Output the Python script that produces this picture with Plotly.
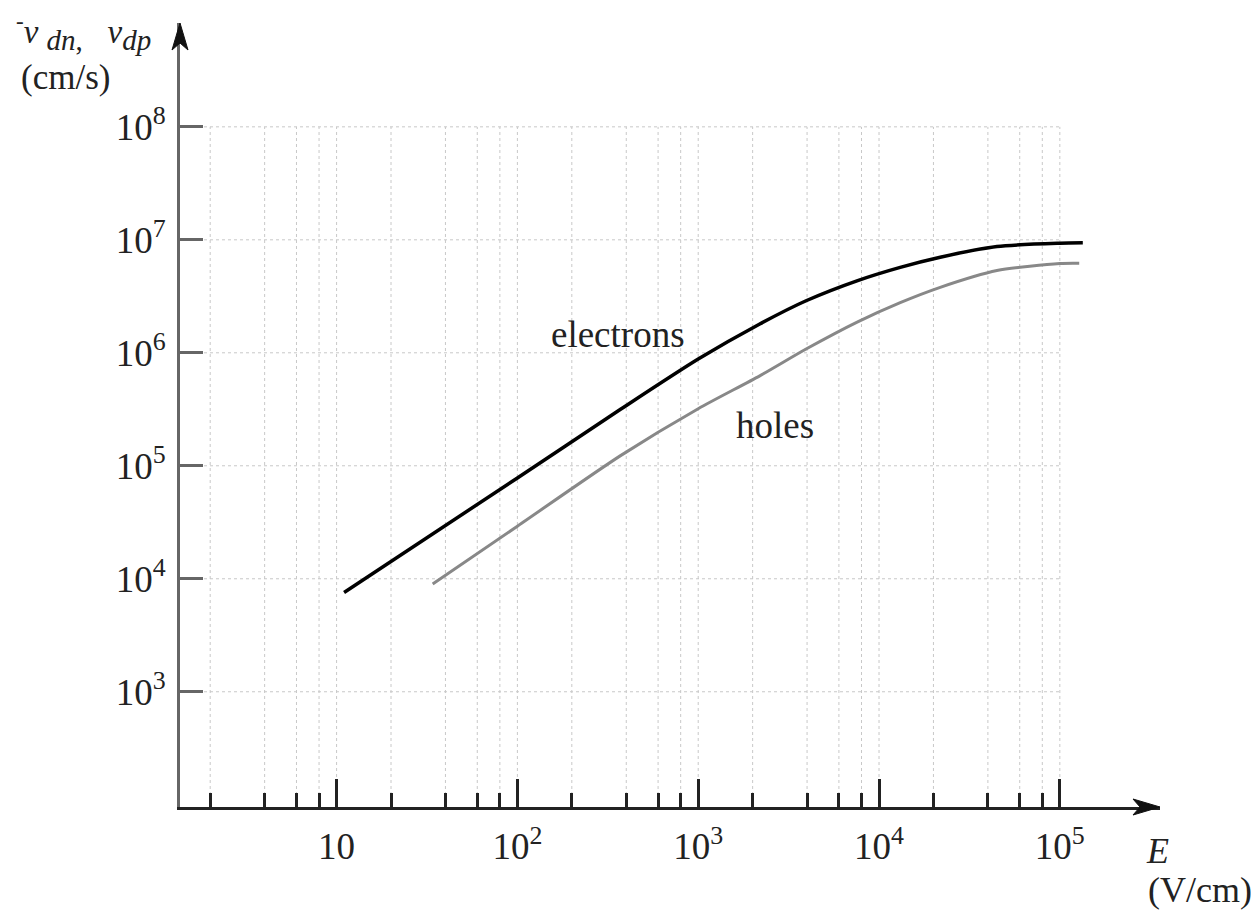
import plotly.graph_objects as go

# ---- data ----
E_electrons = [11, 100, 372, 1000, 2190, 3950, 7620, 13100, 21800, 44900, 100000, 134000]
v_electrons = [7.57e3, 7.8e4, 3.16e5, 8.8e5, 1.80e6, 2.89e6, 4.36e6, 5.71e6, 7.02e6, 8.73e6, 9.33e6, 9.4e6]

E_holes = [34, 100, 372, 1000, 2190, 3950, 7620, 13100, 21800, 44900, 100000, 128000]
v_holes = [8.97e3, 2.92e4, 1.23e5, 3.2e5, 6.25e5, 1.08e6, 1.88e6, 2.78e6, 3.8e6, 5.35e6, 6.17e6, 6.2e6]

x_major = [10, 100, 1000, 10000, 100000]
x_major_text = ["10", "10<sup>2</sup>", "10<sup>3</sup>", "10<sup>4</sup>", "10<sup>5</sup>"]
x_minor = [m * 10 ** k for k in range(0, 5) for m in (2, 4, 6, 8)]
y_major = [1e3, 1e4, 1e5, 1e6, 1e7, 1e8]
y_major_text = ["10<sup>3</sup>", "10<sup>4</sup>", "10<sup>5</sup>", "10<sup>6</sup>", "10<sup>7</sup>", "10<sup>8</sup>"]

x_range_log = [0.134, 5.554]
y_range_log = [1.98, 8.919]

label_electrons = ("electrons", 2.557, 6.16)   # (text, log10 E, log10 v)
label_holes = ("holes", 3.427, 5.361)

FONT = "Liberation Serif"
TXT = "#222222"

fig = go.Figure()

# dotted grid, restricted to the decade box like the reference
grid_x = sorted(x_minor + x_major)
x_lo = 10 ** x_range_log[0]
for gx in grid_x:
    fig.add_trace(go.Scatter(x=[gx, gx], y=[10 ** y_range_log[0], max(y_major)], mode="lines",
                             line=dict(color="#c8c8c8", width=1, dash="dot"),
                             hoverinfo="skip", showlegend=False))
for gy in y_major:
    fig.add_trace(go.Scatter(x=[x_lo, max(x_major)], y=[gy, gy], mode="lines",
                             line=dict(color="#c8c8c8", width=1, dash="dot"),
                             hoverinfo="skip", showlegend=False))

fig.add_trace(go.Scatter(x=E_holes, y=v_holes, mode="lines", name="holes",
                         line=dict(color="#888888", width=3, shape="spline", smoothing=0.7),
                         showlegend=False))
fig.add_trace(go.Scatter(x=E_electrons, y=v_electrons, mode="lines", name="electrons",
                         line=dict(color="#000000", width=3.5, shape="spline", smoothing=0.7),
                         showlegend=False))

# page body has an 8px margin: the figure is placed at (8, 8) in the window
OFF = 8
W, H = 1259 - OFF, 910 - OFF
ML, MR, MT, MB = 180 - OFF, 99, 23 - OFF, 103
PW, PH = W - ML - MR, H - MT - MB
PLOT_LEFT, PLOT_BOTTOM = 180, 807   # window pixels


def px(xp):
    return (xp - PLOT_LEFT) / PW


def py(yp):
    return (PLOT_BOTTOM - yp) / PH


sub_style = "font-size:29px"
title_text = ("<sup>-</sup><i>v</i> <sub><span style='%s'><i>dn</i>,</span></sub>   "
              "<i>v</i><sub><span style='%s'><i>dp</i></span></sub>") % (sub_style, sub_style)

annotations = [
    dict(text=label_electrons[0], x=label_electrons[1], y=label_electrons[2], xref="x", yref="y",
         xanchor="center", yanchor="middle",
         showarrow=False, font=dict(family=FONT, size=37, color=TXT)),
    dict(text=label_holes[0], x=label_holes[1], y=label_holes[2], xref="x", yref="y",
         xanchor="center", yanchor="middle",
         showarrow=False, font=dict(family=FONT, size=37, color=TXT)),
    dict(text=title_text,
         x=px(14), y=py(32), xref="paper", yref="paper", xanchor="left", yanchor="middle",
         showarrow=False, font=dict(family=FONT, size=33, color=TXT)),
    dict(text="(cm/s)", x=px(65), y=py(77), xref="paper", yref="paper",
         xanchor="center", yanchor="middle",
         showarrow=False, font=dict(family=FONT, size=35, color=TXT)),
    dict(text="<i>E</i>", x=px(1157), y=py(851), xref="paper", yref="paper",
         xanchor="center", yanchor="middle",
         showarrow=False, font=dict(family=FONT, size=36, color=TXT)),
    dict(text="(V/cm)", x=px(1200), y=py(890), xref="paper", yref="paper",
         xanchor="center", yanchor="middle",
         showarrow=False, font=dict(family=FONT, size=36, color=TXT)),
]

shapes = [
    # arrow head at the end of the x axis
    dict(type="path", xref="paper", yref="paper", xsizemode="pixel", ysizemode="pixel",
         xanchor=1, yanchor=0, path="M0,0 L-27,8 L-20,0 L-27,-8 Z",
         fillcolor="#111111", line=dict(color="#111111", width=1)),
    # arrow head at the top of the y axis
    dict(type="path", xref="paper", yref="paper", xsizemode="pixel", ysizemode="pixel",
         xanchor=0, yanchor=1, path="M0,0 L-8,-27 L0,-20 L8,-27 Z",
         fillcolor="#111111", line=dict(color="#111111", width=1)),
]

fig.update_layout(
    width=W, height=H,
    margin=dict(l=ML, r=MR, t=MT, b=MB),
    paper_bgcolor="white", plot_bgcolor="white",
    showlegend=False,
    annotations=annotations,
    shapes=shapes,
    xaxis=dict(type="log", range=x_range_log, showgrid=False, zeroline=False,
               showline=True, linecolor="#222222", linewidth=3,
               ticks="inside", ticklen=28, tickwidth=3, tickcolor="#222222",
               tickmode="array", tickvals=x_major, ticktext=x_major_text,
               tickfont=dict(family=FONT, size=37, color=TXT), ticklabelstandoff=5,
               minor=dict(tickmode="array", tickvals=x_minor, ticks="inside", ticklen=14,
                          tickwidth=2.5, tickcolor="#222222", showgrid=False)),
    yaxis=dict(type="log", range=y_range_log, showgrid=False, zeroline=False,
               showline=True, linecolor="#666666", linewidth=3,
               ticks="inside", ticklen=23, tickwidth=3, tickcolor="#666666",
               tickmode="array", tickvals=y_major, ticktext=y_major_text,
               tickfont=dict(family=FONT, size=37, color=TXT), ticklabelstandoff=4),
)

fig.write_html("out.html")
